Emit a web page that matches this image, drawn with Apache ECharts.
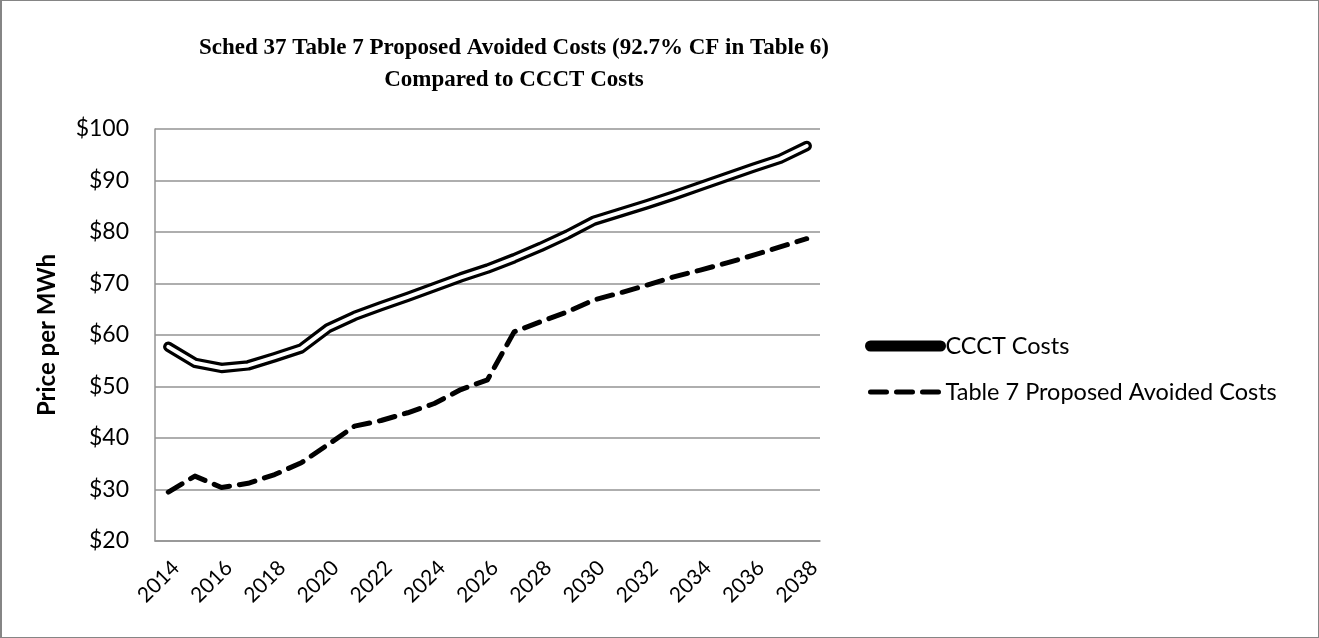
<!DOCTYPE html>
<html>
<head>
<meta charset="utf-8">
<script src="https://cdn.jsdelivr.net/npm/echarts@6/dist/echarts.min.js"></script>
<style>
  html, body { margin: 0; padding: 0; background: #fff; }
  #chart { width: 1319px; height: 638px; box-sizing: border-box; border: 1px solid #858585; border-left-width: 2px; }
</style>
</head>
<body>
<div id="chart"></div>
<script>
// Years on the category axis
const years = ['2014','2015','2016','2017','2018','2019','2020','2021','2022','2023','2024','2025',
               '2026','2027','2028','2029','2030','2031','2032','2033','2034','2035','2036','2037','2038'];

// CCCT costs, $ per MWh
const ccctCosts = [57.7, 54.6, 53.6, 54.1, 55.7, 57.4, 61.3, 63.7, 65.6, 67.4, 69.3, 71.2,
                   72.9, 74.9, 77.1, 79.5, 82.2, 83.8, 85.4, 87.1, 88.9, 90.7, 92.5, 94.2, 96.7];

// Table 7 proposed avoided costs, $ per MWh
const avoidedCosts = [29.5, 32.6, 30.4, 31.2, 32.9, 35.2, 38.7, 42.3, 43.4, 44.9, 46.7, 49.4,
                      51.3, 60.6, 62.6, 64.5, 66.8, 68.2, 69.7, 71.3, 72.6, 74.0, 75.5, 77.1, 78.7];

const yMin = 20, yMax = 100, yStep = 10;

const labelFont = 'Lato, "Liberation Sans", sans-serif';
const gridGray = '#939393';
const dashPattern = [16, 10];

const chart = echarts.init(document.getElementById('chart'), null, { renderer: 'canvas' });

chart.setOption({
  animation: false,
  backgroundColor: '#fff',
  title: {
    text: 'Sched 37 Table 7 Proposed Avoided Costs (92.7% CF in Table 6)\nCompared to CCCT Costs',
    left: 507,
    top: 26,
    textAlign: 'center',
    textStyle: {
      fontFamily: '"Liberation Serif", "Times New Roman", serif',
      fontWeight: 'bold',
      fontSize: 23,
      lineHeight: 32,
      color: '#000'
    }
  },
  legend: {
    orient: 'vertical',
    left: 863,
    top: 333,
    padding: 0,
    itemWidth: 70,
    itemHeight: 14,
    itemGap: 22,
    textStyle: { fontFamily: labelFont, fontSize: 23.5, color: '#000' },
    itemStyle: { opacity: 0 },
    data: [
      { name: 'CCCT Costs', itemStyle: { opacity: 0 },
        lineStyle: { width: 11, color: '#000', cap: 'round' } },
      { name: 'Table 7 Proposed Avoided Costs', itemStyle: { opacity: 0 },
        lineStyle: { width: 5, color: '#000', type: dashPattern, cap: 'round' } }
    ]
  },
  grid: { left: 153, right: 498, top: 128, bottom: 96, containLabel: false },
  xAxis: {
    type: 'category',
    data: years,
    boundaryGap: true,
    axisLine: { show: true, lineStyle: { color: gridGray, width: 1.5 } },
    axisTick: { show: false },
    axisLabel: {
      interval: 1,
      rotate: 45,
      margin: 16,
      verticalAlign: 'top',
      fontFamily: labelFont,
      fontSize: 21,
      color: '#000'
    },
    splitLine: { show: false }
  },
  yAxis: {
    type: 'value',
    min: yMin,
    max: yMax,
    interval: yStep,
    name: 'Price per MWh',
    nameLocation: 'middle',
    nameGap: 96,
    nameTextStyle: { fontFamily: labelFont, fontWeight: 'bold', fontSize: 24, color: '#000' },
    axisLine: { show: true, lineStyle: { color: gridGray, width: 1.5 } },
    axisTick: { show: false },
    axisLabel: {
      margin: 26,
      fontFamily: labelFont,
      fontSize: 23,
      color: '#000',
      formatter: v => '$' + v
    },
    splitLine: { show: true, lineStyle: { color: gridGray, width: 1.5 } }
  },
  series: [
    {
      name: 'CCCT Costs',
      type: 'line',
      data: ccctCosts,
      symbol: 'none',
      z: 3,
      lineStyle: { color: '#000', width: 10.5, cap: 'round', join: 'round' }
    },
    {
      // white core that turns the CCCT line into a double stroke
      name: 'CCCT Costs core',
      type: 'line',
      data: ccctCosts,
      symbol: 'none',
      z: 4,
      silent: true,
      lineStyle: { color: '#fff', width: 4, cap: 'round', join: 'round' }
    },
    {
      name: 'Table 7 Proposed Avoided Costs',
      type: 'line',
      data: avoidedCosts,
      symbol: 'none',
      z: 3,
      lineStyle: { color: '#000', width: 5, type: dashPattern, cap: 'round', join: 'round' }
    }
  ]
});
</script>
</body>
</html>
